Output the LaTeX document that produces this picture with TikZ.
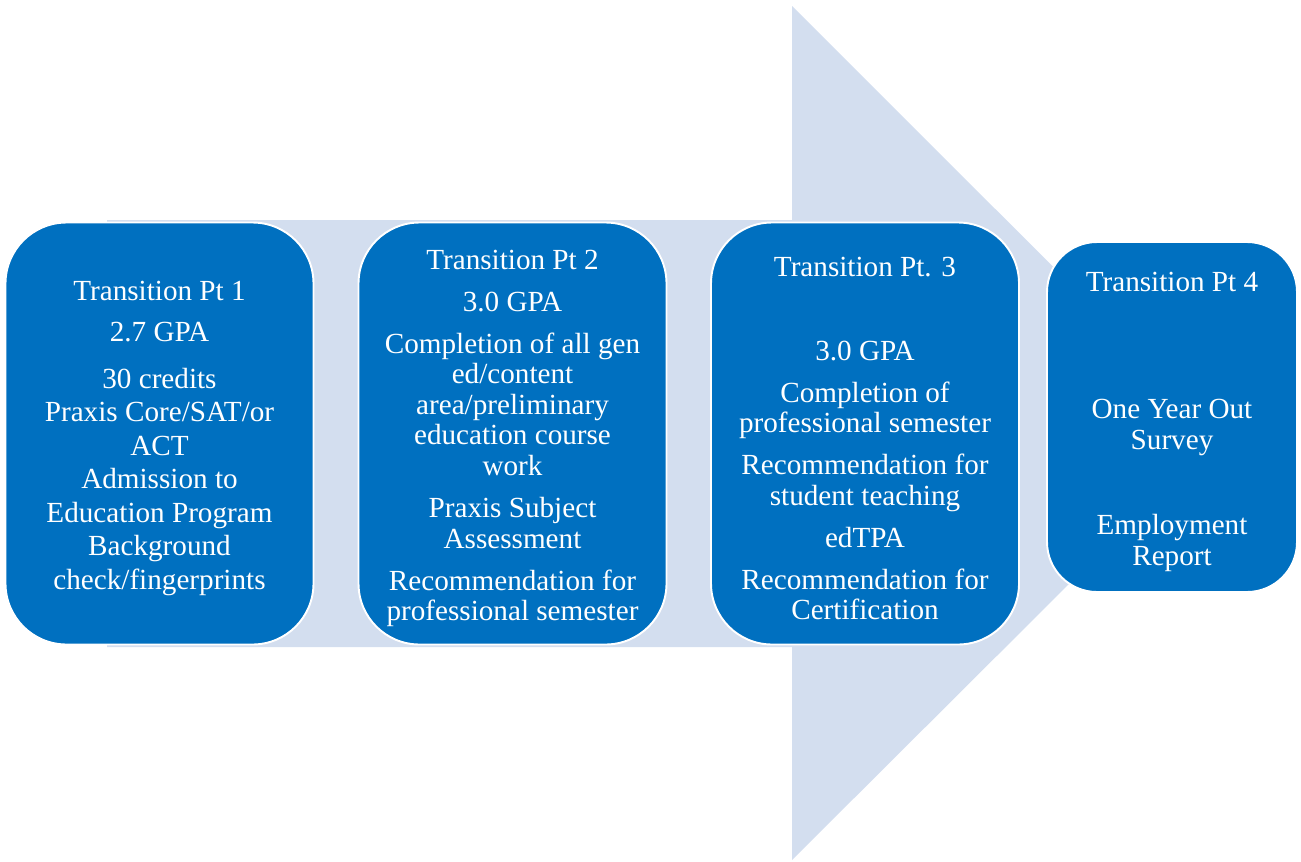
\documentclass[tikz,border=0pt]{standalone}
\usepackage{fontspec}
\setmainfont{Liberation Serif}
\usepackage{xcolor}
\usetikzlibrary{positioning}
\definecolor{tpblue}{RGB}{0,112,192}
\definecolor{flowbg}{RGB}{211,222,239}
\newcommand{\tpstrut}{\rule{0pt}{16.5pt}}

\begin{document}
\begin{tikzpicture}[
  tpoint/.style={draw=white, line width=1.1pt, fill=tpblue, text=white,
    rounded corners=1.22cm, align=center, inner sep=0pt,
    minimum width=6.16cm, minimum height=8.44cm,
    font=\fontsize{16.6}{17.4}\selectfont},
  flow/.style={fill=flowbg}
]
  \useasboundingbox (0,-8.55) rectangle (26.02,8.67);
  \path[flow] (2.14,4.27) -- (15.84,4.27) -- (15.84,8.55) -- (24.4,0)
    -- (15.84,-8.53) -- (15.84,-4.27) -- (2.14,-4.27) -- cycle;

  \node[tpoint, font=\fontsize{16.6}{19.1}\selectfont] (tp1) at (3.19,0) {\tpstrut Transition Pt 1\\[4.2pt]
    2.7 GPA\\[7.6pt]
    30 credits\\Praxis Core/SAT/or\\ACT\\Admission to\\Education Program\\Background\\check/fingerprints};
  \node[tpoint] (tp2) at (10.25,0) {\tpstrut Transition Pt 2\\[6.5pt]
    3.0 GPA\\[6.5pt]
    Completion of all gen\\ed/content\\area/preliminary\\education course\\work\\[6.5pt]
    Praxis Subject\\Assessment\\[6.5pt]
    Recommendation for\\professional semester};
  \node[tpoint] (tp3) at (17.3,0) {\tpstrut Transition Pt. 3\\[30.4pt]
    3.0 GPA\\[6.5pt]
    Completion of\\professional semester\\[6.5pt]
    Recommendation for\\student teaching\\[6.5pt]
    edTPA\\[6.5pt]
    Recommendation for\\Certification};
  \node[tpoint, minimum width=5cm, minimum height=7cm, rounded corners=1cm] (tp4) at (23.44,0.33) {\tpstrut Transition Pt 4\\[54.9pt]
    One Year Out\\Survey\\[31pt]
    Employment\\Report};
\end{tikzpicture}
\end{document}
